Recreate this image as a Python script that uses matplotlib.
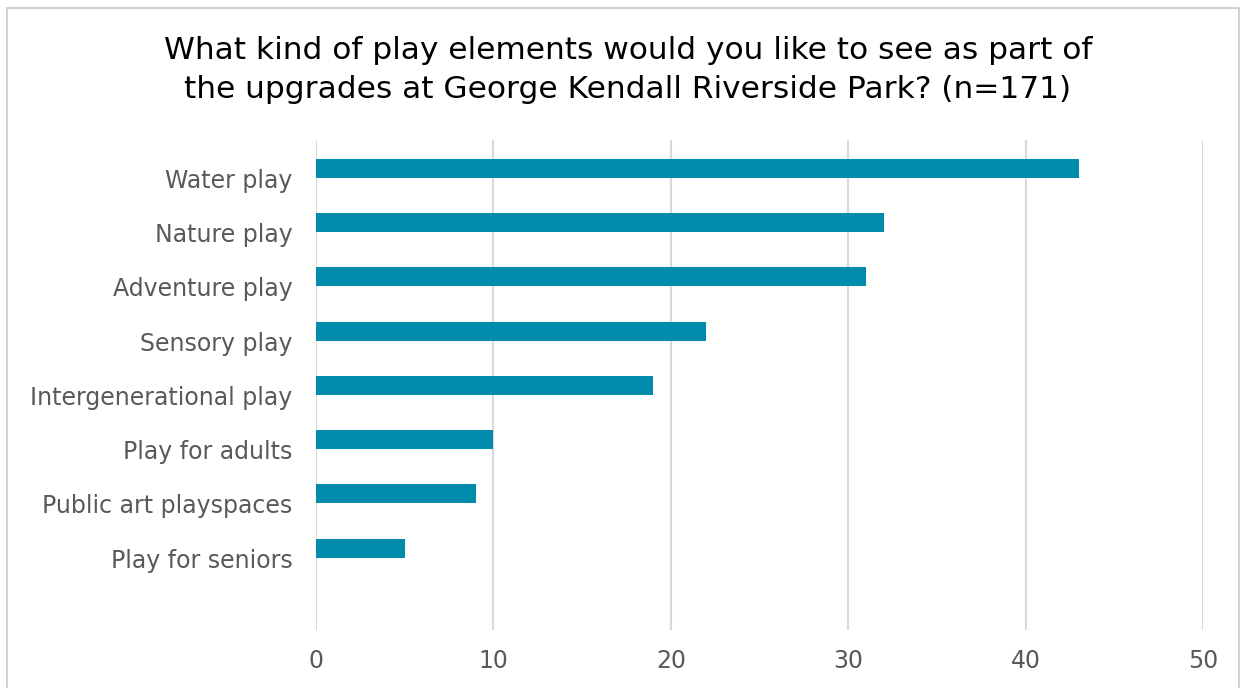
import matplotlib.pyplot as plt
import matplotlib.transforms as mtransforms
from matplotlib.patches import Rectangle

# kategoriler ve yuzdeler
categories = ['Water play', 'Nature play', 'Adventure play', 'Sensory play',
              'Intergenerational play', 'Play for adults', 'Public art playspaces',
              'Play for seniors']
values = [43, 32, 31, 22, 19, 10, 9, 5]
xticks = [0, 10, 20, 30, 40, 50]

title = ('What kind of play elements would you like to see as part of\n'
         'the upgrades at George Kendall Riverside Park? (n=171)')

plt.rcParams['font.family'] = ['DejaVu Sans']

fig = plt.figure(figsize=(12.46, 6.88), dpi=100)
ax = fig.add_axes([0.2536, 0.0843, 0.7119, 0.7122])

pos = list(range(len(categories)))
ax.barh(pos, values, height=0.35, color='#008CAA', zorder=3)

ax.set_xlim(0, 50)
ax.set_ylim(7 + 1.51, -0.52)
ax.set_xticks(xticks)
ax.set_yticks(pos)
ax.set_yticklabels(categories)
ax.grid(axis='x', color='#d9d9d9', linewidth=1.5, zorder=0)
for s in ax.spines.values():
    s.set_visible(False)
ax.tick_params(axis='both', length=0, labelsize=17, labelcolor='#595959')
ax.tick_params(axis='y', pad=17)
ax.tick_params(axis='x', pad=14)

# excel'de etiketler cubuklardan biraz asagida duruyor
shift = mtransforms.ScaledTranslation(0, -10 / 100, fig.dpi_scale_trans)
for lbl in ax.get_yticklabels():
    lbl.set_transform(lbl.get_transform() + shift)

fig.text(0.504, 0.898, title, ha='center', va='center', fontsize=22.5,
         color='#000000', linespacing=1.42)

# ince gri cerceve
fig.patches.append(Rectangle((0.006, -0.01), 0.988, 0.999, transform=fig.transFigure,
                             fill=False, edgecolor='#c8c8c8', linewidth=1.2))

fig.savefig('out.png', dpi=100)
